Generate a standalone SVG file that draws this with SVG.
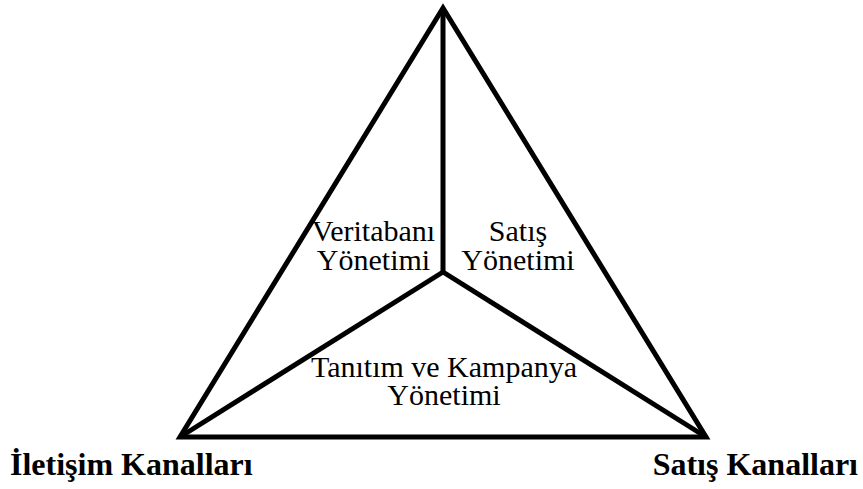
<svg xmlns="http://www.w3.org/2000/svg" width="863" height="489" viewBox="0 0 863 489">
<style>
.ln{stroke:#000;stroke-width:5;fill:none;stroke-linejoin:miter}
.t{font-family:"Liberation Serif","Times New Roman",serif;font-size:30px;fill:#000;text-anchor:middle}
.b{font-family:"Liberation Serif","Times New Roman",serif;font-size:32px;font-weight:bold;fill:#000}
</style>
<rect width="863" height="489" fill="#fff"/>
<g id="connectors">
<polygon class="ln" points="443,8 180,437 706,437"/>
<line class="ln" x1="443" y1="272" x2="443" y2="8"/>
<line class="ln" x1="443" y1="272" x2="180" y2="437"/>
<line class="ln" x1="443" y1="272" x2="706" y2="437"/>
</g>
<g id="veritabani">
<text class="t" x="373.5" y="241">Veritabanı</text>
<text class="t" x="373.5" y="270">Yönetimi</text>
</g>
<g id="satis">
<text class="t" x="518" y="241">Satış</text>
<text class="t" x="518" y="270">Yönetimi</text>
</g>
<g id="tanitim">
<text class="t" x="444" y="377">Tanıtım ve Kampanya</text>
<text class="t" x="444" y="405">Yönetimi</text>
</g>
<g id="iletisim-kanallari">
<text class="b" x="10" y="475">İletişim Kanalları</text>
</g>
<g id="satis-kanallari">
<text class="b" x="858" y="475" text-anchor="end">Satış Kanalları</text>
</g>
</svg>
